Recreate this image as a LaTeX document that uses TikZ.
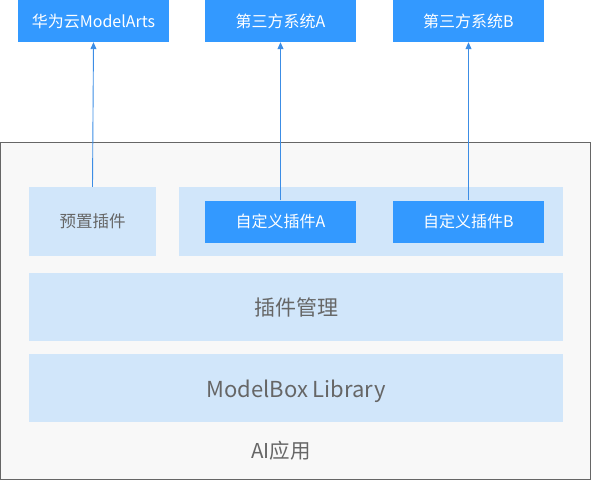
\documentclass[tikz,border=0pt]{standalone}
\usepackage{fontspec}
\setmainfont{Noto Sans CJK SC}
\usetikzlibrary{arrows.meta}
\definecolor{bblue}{HTML}{3399FF}
\definecolor{lblue}{HTML}{D1E6FA}
\definecolor{tgray}{HTML}{666666}
\definecolor{fgray}{HTML}{F8F8F8}
\definecolor{ablue}{HTML}{3C8DE5}
\begin{document}
\begin{tikzpicture}[x=1pt,y=-1pt,
  topbox/.style={fill=bblue,draw=none,inner sep=0pt,text=white,font=\fontsize{16}{19}\selectfont},
  lightbox/.style={fill=lblue,draw=none,inner sep=0pt,text=tgray},
  arr/.style={draw=ablue,line width=0.9pt,-{Triangle[width=6pt,length=7pt]}}]
\useasboundingbox (0,0) rectangle (592,480);
% outer frame
\path[fill=fgray,draw=tgray,line width=1pt] (0.5,142.5) rectangle (590.5,479.5);
\node[anchor=center,text=tgray,font=\fontsize{20.5}{24}\selectfont] (ai) at (281,451) {AI应用};
% top boxes
\node[topbox,minimum width=151pt,minimum height=42pt] (m) at (93.5,21) {华为云ModelArts};
\node[topbox,minimum width=151pt,minimum height=42pt] (sa) at (280.5,21) {第三方系统A};
\node[topbox,minimum width=151pt,minimum height=42pt] (sb) at (468.5,21) {第三方系统B};
% second row
\node[lightbox,minimum width=127pt,minimum height=69pt,font=\fontsize{16.5}{19}\selectfont] (pre) at (92.5,221.5) {预置插件};
\node[lightbox,minimum width=384pt,minimum height=69pt] (grp) at (371,221.5) {};
\node[topbox,minimum width=151pt,minimum height=42pt] (ca) at (280.5,221.5) {自定义插件A};
\node[topbox,minimum width=151pt,minimum height=42pt] (cb) at (468.5,221.5) {自定义插件B};
% layers
\node[lightbox,minimum width=534pt,minimum height=68pt,font=\fontsize{21}{25}\selectfont] (pm) at (296,307) {插件管理};
\node[lightbox,minimum width=534pt,minimum height=68pt] (lib) at (296,388) {};
\node[text=tgray,inner sep=0pt,font=\fontsize{22}{26}\selectfont,yshift=-3pt] (libt) at (lib.center) {ModelBox Library};
% arrows
\draw[arr] (pre.north) -- (m.south);
\draw[arr] (ca.north) -- (sa.south);
\draw[arr] (cb.north) -- (sb.south);
\end{tikzpicture}
\end{document}
